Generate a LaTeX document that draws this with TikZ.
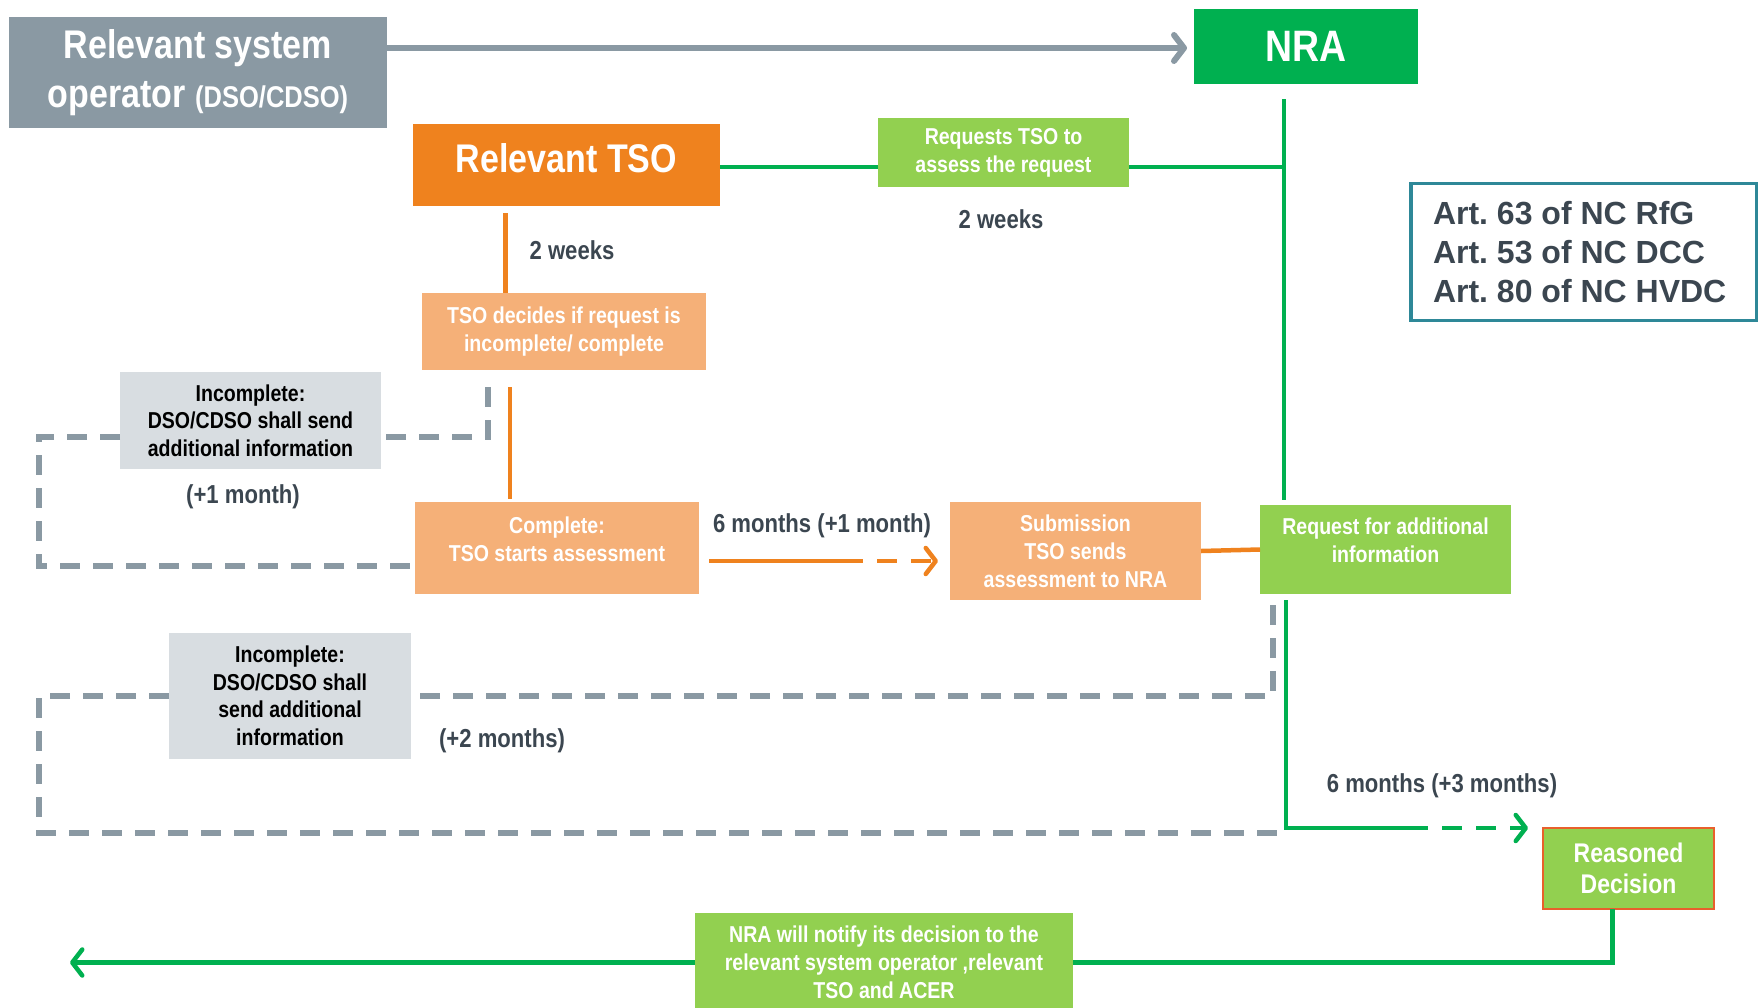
\documentclass[tikz,border=0pt]{standalone}
\usepackage{fontspec}
\setmainfont{Liberation Sans}[FakeStretch=0.85]
\newfontfamily\artfont{Liberation Sans}
\usetikzlibrary{arrows.meta,calc}

\definecolor{opgray}{HTML}{8A99A3}
\definecolor{nragreen}{HTML}{00B050}
\definecolor{tsoorange}{HTML}{EF821E}
\definecolor{lightorange}{HTML}{F5B078}
\definecolor{lightgreen}{HTML}{92D050}
\definecolor{boxgray}{HTML}{D8DDE1}
\definecolor{labelgray}{HTML}{3B4650}
\definecolor{artteal}{HTML}{2E8898}
\definecolor{decred}{HTML}{E8602C}

\frenchspacing
\begin{document}
\begin{tikzpicture}[x=1pt,y=-1pt,
  every node/.style={inner sep=0pt, outer sep=0pt},
  bigtext/.style={align=center, text=white, font=\fontsize{40}{49}\selectfont\bfseries},
  boxtext/.style={align=center, text=white, font=\fontsize{23}{28}\selectfont\bfseries},
  inctext/.style={align=center, text=black, font=\fontsize{23}{27.5}\selectfont\bfseries},
  lab/.style={text=labelgray, font=\fontsize{26}{30}\selectfont\bfseries},
  graybox/.style={fill=boxgray},
  orangebox/.style={fill=lightorange},
  greenbox/.style={fill=lightgreen},
  opline/.style={draw=opgray, line width=6pt},
  gline/.style={draw=nragreen, line width=4.5pt},
  oline/.style={draw=tsoorange, line width=4.5pt},
  dashline/.style={draw=opgray, line width=5.5pt, dash pattern=on 20pt off 13pt},
  tipdash/.style={dash pattern=on 20pt off 14pt, dash phase=20pt},
  chev/.style={-{Straight Barb[length=10pt,width=26pt,round]}},
]
\useasboundingbox (0,0) rectangle (1758,1007);

% ---------- boxes ----------
\node[fill=opgray, minimum width=378pt, minimum height=111pt, bigtext] (rso) at (198,72.5)
  {Relevant system\\operator {\fontsize{30}{49}\selectfont(DSO/CDSO)}};
\node[fill=nragreen, minimum width=224pt, minimum height=75pt, text=white,
  font=\fontsize{44}{50}\selectfont\bfseries] (nra) at (1306,46.5) {NRA};
\node[fill=tsoorange, minimum width=307pt, minimum height=82pt, text=white, text depth=14pt,
  font=\fontsize{40}{49}\selectfont\bfseries] (tso) at (566.5,165) {Relevant TSO};
\node[greenbox, minimum width=251pt, minimum height=69pt, boxtext] (req) at (1003.5,152.5)
  {Requests TSO to\\assess the request};
\node[orangebox, minimum width=284pt, minimum height=77pt, boxtext] (decide) at (564,331.5)
  {TSO decides if request is\\incomplete/ complete};
\node[graybox, minimum width=261pt, minimum height=97pt, inctext] (inc1) at (250.5,420.5)
  {Incomplete:\\DSO/CDSO shall send\\additional information};
\node[orangebox, minimum width=284pt, minimum height=92pt] (complete) at (557,548) {};
\node[boxtext, yshift=9pt] (completetext) at (complete.center) {Complete:\\TSO starts assessment};
\node[orangebox, minimum width=251pt, minimum height=98pt, boxtext] (submit) at (1075.5,551)
  {Submission\\TSO sends\\assessment to NRA};
\node[greenbox, minimum width=251pt, minimum height=89pt] (reqinfo) at (1385.5,549.5) {};
\node[boxtext, yshift=9pt] (reqinfotext) at (reqinfo.center) {Request for additional\\information};
\node[graybox, minimum width=242pt, minimum height=126pt, inctext] (inc2) at (290,696)
  {Incomplete:\\DSO/CDSO shall\\send additional\\information};
\node[greenbox, draw=decred, line width=2pt, minimum width=171pt, minimum height=81pt,
  align=center, text=white, font=\fontsize{27}{31}\selectfont\bfseries] (decision) at (1628.5,868.5)
  {Reasoned\\Decision};
\node[greenbox, minimum width=378pt, minimum height=99pt, boxtext] (notify) at (884,962.5)
  {NRA will notify its decision to the\\relevant system operator ,relevant\\TSO and ACER};

% legal references
\node[draw=artteal, line width=3.5pt, minimum width=346pt, minimum height=137pt] (art) at (1584,252) {};
\node[anchor=west, align=left, text=labelgray, font=\artfont\fontsize{32}{38.7}\selectfont\bfseries]
  (arttext) at ($(art.west)+(22,0)$) {Art. 63 of NC RfG\\Art. 53 of NC DCC\\Art. 80 of NC HVDC};

% ---------- time labels ----------
\node[lab] (w1) at (572,250) {2 weeks};
\node[lab] (w2) at (1001,219) {2 weeks};
\node[lab] (m1) at (243,497) {(+1 month)};
\node[lab] (m6a) at (822,526) {6 months (+1 month)};
\node[lab] (m2) at (502,741) {(+2 months)};
\node[lab] (m6b) at (1442,786) {6 months (+3 months)};

% ---------- helper points ----------
\coordinate (rsoOut) at ($(rso.north east)+(0,31)$);
\coordinate (tsoOut) at ($(tso.east)+(0,2)$);
\coordinate (spineTop) at ($(nra.south)+(-22,15)$);
\coordinate (spineLow) at ($(reqinfo.south west)+(26,6)$);
\coordinate (corner) at (spineLow |- decision.north);
\coordinate (gmid) at ($(corner)+(142,0)$);
\coordinate (cornerD) at ($(corner)+(0,5)$);
\coordinate (leftrail) at (39,0);
\coordinate (d1top) at ($(decide.south west)+(66,17)$);
\coordinate (d1knee) at ($(d1top)+(0,50)$);
\coordinate (cIn) at ($(complete.west)+(0,18)$);
\coordinate (d2top) at ($(reqinfo.south west)+(13,11)$);
\coordinate (oStart) at ($(complete.east)+(10,13)$);
\coordinate (oMid) at ($(oStart)+(154,0)$);
\coordinate (o1) at ($(tso.south)+(-61,7)$);
\coordinate (o2) at ($(decide.south)+(-54,17)$);
\coordinate (dOut) at ($(decision.south)+(-16,0)$);
\coordinate (leftTip) at (70,0);

% ---------- connectors ----------
% operator to regulator
\draw[opline, chev, shorten >=7pt] (rsoOut) -- (rsoOut -| nra.west);

% regulator requests the TSO
\draw[gline] (tsoOut) -- (tsoOut -| req.west);
\draw[gline] (tsoOut -| req.east) -- (tsoOut -| spineTop);
\draw[gline] (spineTop) -- ($(spineTop |- reqinfo.north)+(0,-5)$);

% TSO internal steps
\draw[oline] (o1) -- (o1 |- decide.north);
\draw[oline] (o2) -- ($(o2 |- complete.north)+(0,-3)$);
\draw[oline] (oStart) -- (oMid);
\draw[oline, tipdash, chev, shorten >=12pt] (oMid) -- (oMid -| submit.west);
\draw[oline] (submit.east) -- (reqinfo.west);

% first completeness loop
\draw[dashline] (d1top) -- (d1knee) -- (d1knee -| inc1.east);
\draw[dashline] (d1knee -| inc1.west) -- (d1knee -| leftrail) -- (leftrail |- cIn) -- (cIn);

% regulator decision path
\draw[gline] (spineLow) -- (corner) -- (gmid);
\draw[gline, tipdash, chev, shorten >=15pt] (gmid) -- (decision.north west);

% second completeness loop
\draw[dashline] (d2top) -- (d2top |- inc2.east) -- (inc2.east);
\draw[dashline] (inc2.west) -- (inc2.west -| leftrail) -- (leftrail |- cornerD) -- (cornerD);

% notification of the decision
\draw[gline] (dOut) |- (notify.east);
\draw[gline, chev] (notify.west) -- (notify.west -| leftTip);
\end{tikzpicture}
\end{document}
